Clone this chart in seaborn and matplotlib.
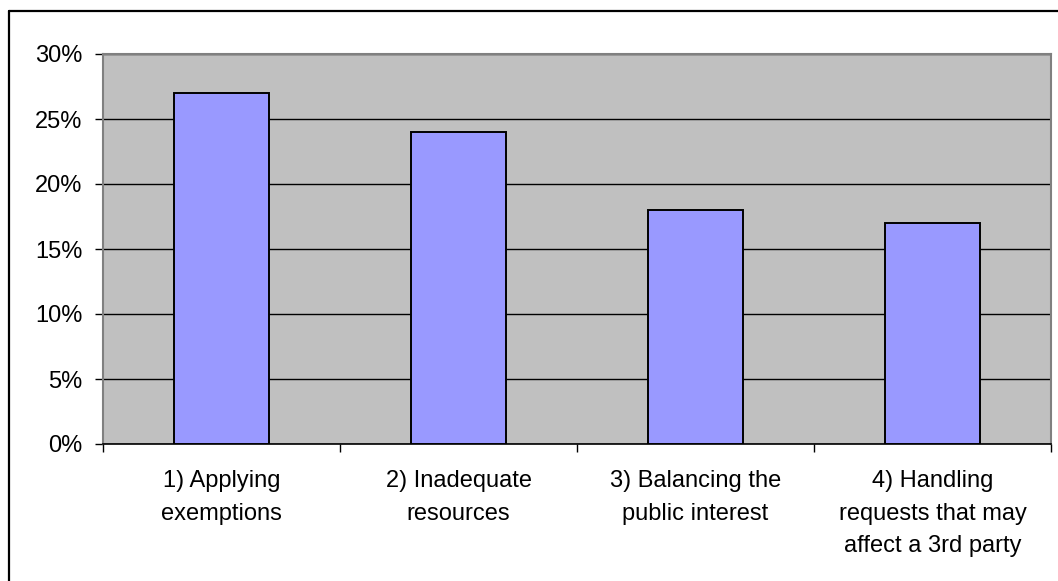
import matplotlib
matplotlib.use("Agg")
import matplotlib.pyplot as plt
import seaborn as sns
import pandas as pd
from matplotlib.ticker import FuncFormatter, FixedLocator
from matplotlib.lines import Line2D

# Survey results: share of respondents naming each difficulty
categories = [
    "1) Applying\nexemptions",
    "2) Inadequate\nresources",
    "3) Balancing the\npublic interest",
    "4) Handling\nrequests that may\naffect a 3rd party",
]
shares = [27, 24, 18, 17]
y_ticks = [0, 5, 10, 15, 20, 25, 30]

sns.set_theme(style="white")
plt.rcParams["font.family"] = ["Liberation Sans", "DejaVu Sans"]

W, H = 1058, 581
fig = plt.figure(figsize=(W / 100, H / 100), dpi=100)
fig.patch.set_facecolor("white")

# outer chart frame (runs off the right and bottom edges)
fx0 = 9 / W
fy1 = 1 - 11 / H
fig.add_artist(Line2D([fx0, 1.01], [fy1, fy1], transform=fig.transFigure, color="black", lw=1.6))
fig.add_artist(Line2D([fx0, fx0], [-0.01, fy1], transform=fig.transFigure, color="black", lw=1.6))

ax = fig.add_axes([103 / W, 1 - 444 / H, (1051 - 103) / W, (444 - 54) / H])
ax.set_facecolor("#C0C0C0")

df = pd.DataFrame({"issue": categories, "share": shares})
sns.barplot(data=df, x="issue", y="share", color="#9999FF", saturation=1,
            width=0.4, edgecolor="black", linewidth=1.4, ax=ax, zorder=3)

ax.set_xlim(-0.5, len(categories) - 0.5)
ax.set_ylim(0, 30)
ax.set_axisbelow(True)
ax.yaxis.grid(True, color="black", lw=1.0)
ax.xaxis.grid(False)

ax.set_yticks(y_ticks)
ax.yaxis.set_major_formatter(FuncFormatter(lambda v, _: f"{v:.0f}%"))
ax.tick_params(axis="y", which="major", left=True, length=6, width=1, color="black",
               direction="out", pad=9, labelsize=17, labelcolor="black")

ax.set_xticks(range(len(categories)))
ax.set_xticklabels(categories, linespacing=1.62)
ax.xaxis.set_minor_locator(FixedLocator([i - 0.5 for i in range(len(categories) + 1)]))
ax.tick_params(axis="x", which="major", bottom=True, length=0, pad=19, labelsize=17,
               labelcolor="black")
ax.tick_params(axis="x", which="minor", bottom=True, length=6, width=1, color="black",
               direction="out")

for side in ("left", "top", "right"):
    ax.spines[side].set_color("#808080")
    ax.spines[side].set_linewidth(1.5)
ax.spines["bottom"].set_color("black")
ax.spines["bottom"].set_linewidth(1.2)

ax.set_xlabel("")
ax.set_ylabel("")

fig.savefig("out.png", dpi=100)
